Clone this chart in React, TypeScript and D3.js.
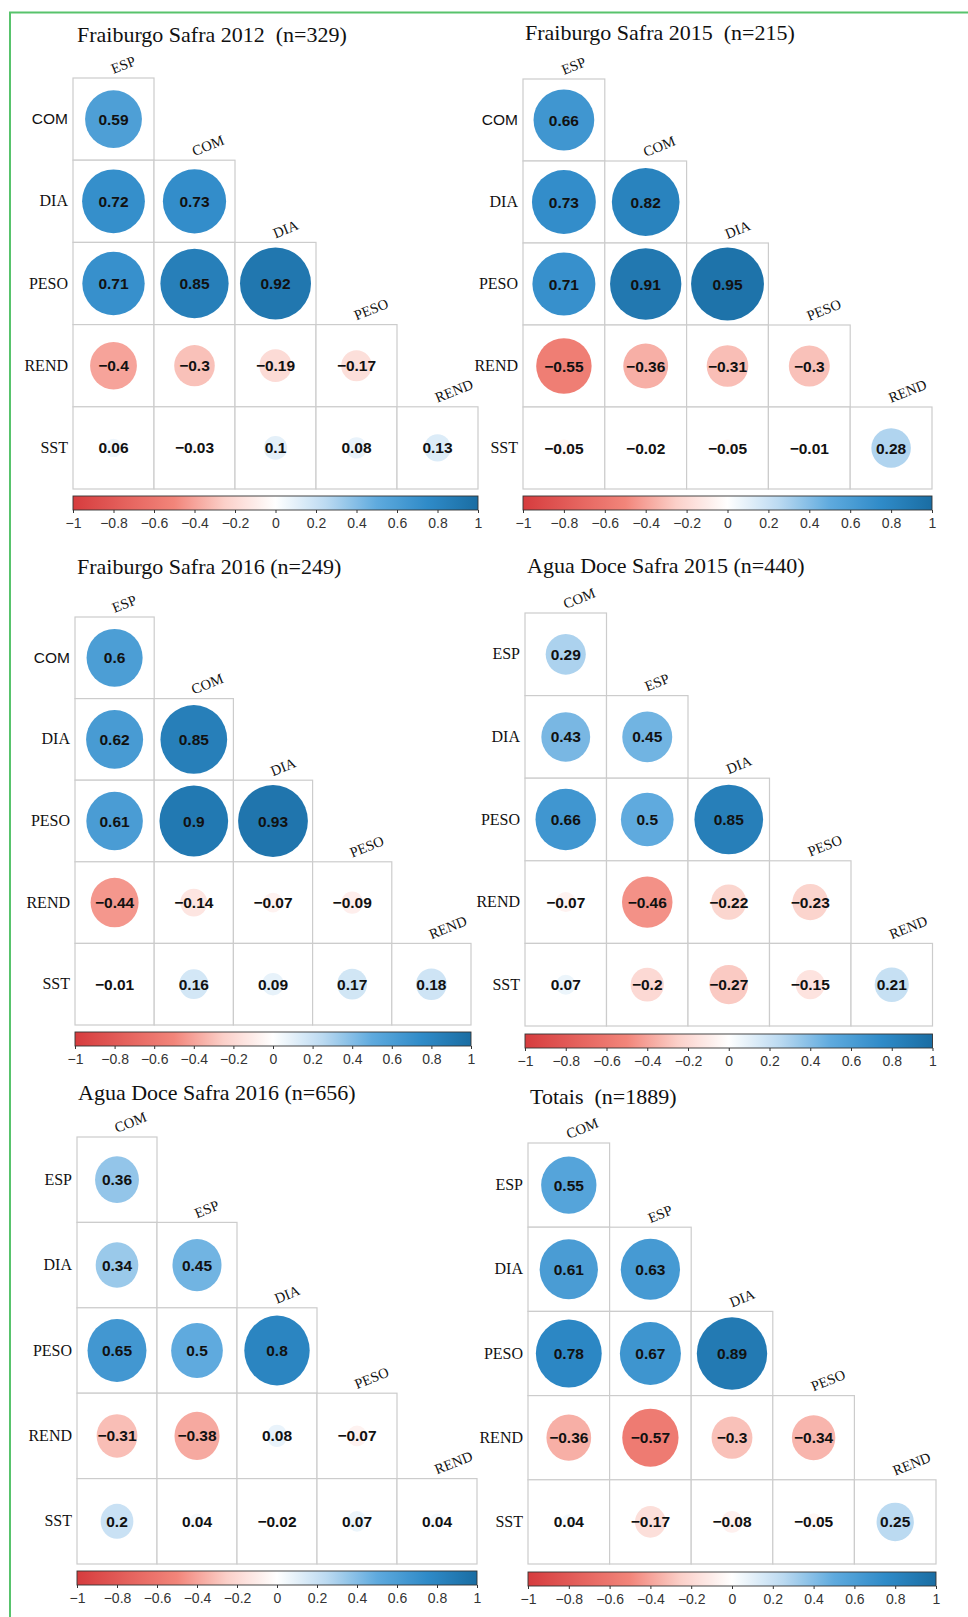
import { useEffect, useRef } from "react";
import * as d3 from "d3";

// variable labels
const fraiburgoRows = ["COM", "DIA", "PESO", "REND", "SST"];
const fraiburgoCols = ["ESP", "COM", "DIA", "PESO", "REND"];
const aguaRows = ["ESP", "DIA", "PESO", "REND", "SST"];
const aguaCols = ["COM", "ESP", "DIA", "PESO", "REND"];

// lower-triangle correlations, one row per row label
const fraiburgo2012 = [
  [0.59],
  [0.72, 0.73],
  [0.71, 0.85, 0.92],
  [-0.4, -0.3, -0.19, -0.17],
  [0.06, -0.03, 0.1, 0.08, 0.13],
];
const fraiburgo2015 = [
  [0.66],
  [0.73, 0.82],
  [0.71, 0.91, 0.95],
  [-0.55, -0.36, -0.31, -0.3],
  [-0.05, -0.02, -0.05, -0.01, 0.28],
];
const fraiburgo2016 = [
  [0.6],
  [0.62, 0.85],
  [0.61, 0.9, 0.93],
  [-0.44, -0.14, -0.07, -0.09],
  [-0.01, 0.16, 0.09, 0.17, 0.18],
];
const aguaDoce2015 = [
  [0.29],
  [0.43, 0.45],
  [0.66, 0.5, 0.85],
  [-0.07, -0.46, -0.22, -0.23],
  [0.07, -0.2, -0.27, -0.15, 0.21],
];
const aguaDoce2016 = [
  [0.36],
  [0.34, 0.45],
  [0.65, 0.5, 0.8],
  [-0.31, -0.38, 0.08, -0.07],
  [0.2, 0.04, -0.02, 0.07, 0.04],
];
const totais = [
  [0.55],
  [0.61, 0.63],
  [0.78, 0.67, 0.89],
  [-0.36, -0.57, -0.3, -0.34],
  [0.04, -0.17, -0.08, -0.05, 0.25],
];

const titles = [
  "Fraiburgo Safra 2012  (n=329)",
  "Fraiburgo Safra 2015  (n=215)",
  "Fraiburgo Safra 2016 (n=249)",
  "Agua Doce Safra 2015 (n=440)",
  "Agua Doce Safra 2016 (n=656)",
  "Totais  (n=1889)",
];

const colorTicks = [-1, -0.8, -0.6, -0.4, -0.2, 0, 0.2, 0.4, 0.6, 0.8, 1];
const colorDomain = [-1, -0.5, -0.25, 0, 0.25, 0.5, 0.75, 1];
const colorRange = [
  "#D63C3E",
  "#F2857A",
  "#FBD0C9",
  "#FFFFFF",
  "#BBDAF1",
  "#5FAADE",
  "#2F8BC8",
  "#1A6DA3",
];

const panels = [
  { data: fraiburgo2012, rows: fraiburgoRows, cols: fraiburgoCols, sansCom: true },
  { data: fraiburgo2015, rows: fraiburgoRows, cols: fraiburgoCols, sansCom: true },
  { data: fraiburgo2016, rows: fraiburgoRows, cols: fraiburgoCols, sansCom: true },
  { data: aguaDoce2015, rows: aguaRows, cols: aguaCols, sansCom: false },
  { data: aguaDoce2016, rows: aguaRows, cols: aguaCols, sansCom: false },
  { data: totais, rows: aguaRows, cols: aguaCols, sansCom: false },
];

// where each panel sits on the page
const layout = [
  { gx: 73, gy: 78, cw: 81, ch: 82.2, tx: 77, ty: 42, cb: 496 },
  { gx: 523, gy: 79, cw: 81.8, ch: 82, tx: 525, ty: 40, cb: 496 },
  { gx: 75, gy: 617, cw: 79.2, ch: 81.6, tx: 77, ty: 574, cb: 1032 },
  { gx: 525, gy: 613, cw: 81.5, ch: 82.6, tx: 527, ty: 573, cb: 1034 },
  { gx: 77, gy: 1137, cw: 80, ch: 85.4, tx: 78, ty: 1100, cb: 1571 },
  { gx: 528, gy: 1143, cw: 81.6, ch: 84.2, tx: 530, ty: 1104, cb: 1572 },
];

const SERIF = "'Liberation Serif', 'Times New Roman', serif";
const SANS = "'Liberation Sans', Arial, sans-serif";

const fmt = (v: number) => String(v).replace("-", "\u2212");

export default function App() {
  const svgRef = useRef<SVGSVGElement>(null);

  useEffect(() => {
    if (!svgRef.current) return;
    const svg = d3.select(svgRef.current);
    svg.selectAll("*").remove();

    const color = d3
      .scaleLinear<string>()
      .domain(colorDomain)
      .range(colorRange)
      .interpolate(d3.interpolateRgb);

    // shared gradient for the colour bars
    const grad = svg
      .append("defs")
      .append("linearGradient")
      .attr("id", "corrbar")
      .attr("x1", "0%")
      .attr("x2", "100%");
    d3.range(0, 41).forEach((i) => {
      const t = i / 40;
      grad
        .append("stop")
        .attr("offset", `${t * 100}%`)
        .attr("stop-color", color(-1 + 2 * t));
    });

    // green frame
    svg
      .append("line")
      .attr("x1", 9)
      .attr("x2", 968)
      .attr("y1", 12.5)
      .attr("y2", 12.5)
      .attr("stroke", "#58C36C")
      .attr("stroke-width", 2);
    svg
      .append("line")
      .attr("x1", 10)
      .attr("x2", 10)
      .attr("y1", 12)
      .attr("y2", 1617)
      .attr("stroke", "#58C36C")
      .attr("stroke-width", 2);

    panels.forEach((p, pi) => {
      const L = layout[pi];
      const g = svg.append("g");

      const x = d3
        .scaleBand()
        .domain(p.cols)
        .range([L.gx, L.gx + L.cw * p.cols.length]);
      const y = d3
        .scaleBand()
        .domain(p.rows)
        .range([L.gy, L.gy + L.ch * p.rows.length]);
      const rx = d3.scaleSqrt().domain([0, 1]).range([0, x.bandwidth() * 0.457]);
      const ry = d3.scaleSqrt().domain([0, 1]).range([0, y.bandwidth() * 0.457]);

      const cells = p.data.flatMap((row, ri) =>
        row.map((v, ci) => ({ row: p.rows[ri], col: p.cols[ci], v }))
      );

      // title
      g.append("text")
        .attr("x", L.tx)
        .attr("y", L.ty)
        .attr("font-family", SERIF)
        .attr("font-size", 22)
        .attr("fill", "#111")
        .style("white-space", "pre")
        .text(titles[pi]);

      // cell grid
      g.selectAll("rect.cell")
        .data(cells)
        .enter()
        .append("rect")
        .attr("class", "cell")
        .attr("x", (d) => x(d.col)!)
        .attr("y", (d) => y(d.row)!)
        .attr("width", x.bandwidth())
        .attr("height", y.bandwidth())
        .attr("fill", "#fff")
        .attr("stroke", "#CCCCCC")
        .attr("stroke-width", 1.2);

      // circles
      g.selectAll("ellipse")
        .data(cells)
        .enter()
        .append("ellipse")
        .attr("cx", (d) => x(d.col)! + x.bandwidth() / 2)
        .attr("cy", (d) => y(d.row)! + y.bandwidth() / 2)
        .attr("rx", (d) => rx(Math.abs(d.v)))
        .attr("ry", (d) => ry(Math.abs(d.v)))
        .attr("fill", (d) => color(d.v));

      // coefficient labels
      g.selectAll("text.value")
        .data(cells)
        .enter()
        .append("text")
        .attr("class", "value")
        .attr("x", (d) => x(d.col)! + x.bandwidth() / 2)
        .attr("y", (d) => y(d.row)! + y.bandwidth() / 2 + 5.5)
        .attr("text-anchor", "middle")
        .attr("font-family", SANS)
        .attr("font-weight", "bold")
        .attr("font-size", 15.5)
        .attr("fill", "#111")
        .text((d) => fmt(d.v));

      // row labels
      g.selectAll("text.rowlab")
        .data(p.rows)
        .enter()
        .append("text")
        .attr("class", "rowlab")
        .attr("x", L.gx - 5)
        .attr("y", (d) => y(d)! + y.bandwidth() / 2 + 5)
        .attr("text-anchor", "end")
        .attr("font-family", (d) => (p.sansCom && d === "COM" ? SANS : SERIF))
        .attr("font-size", (d) => (p.sansCom && d === "COM" ? 15.5 : 16))
        .attr("fill", "#111")
        .text((d) => d);

      // column labels, tilted, above the diagonal cells
      g.selectAll("text.collab")
        .data(p.cols)
        .enter()
        .append("text")
        .attr("class", "collab")
        .attr("transform", (d, i) => {
          const cx = x(d)! + x.bandwidth() / 2;
          const cy = y(p.rows[i])! - 4;
          return `translate(${cx},${cy}) rotate(-22)`;
        })
        .attr("font-family", SERIF)
        .attr("font-size", 14.5)
        .attr("fill", "#111")
        .text((d) => d);

      // colour bar
      const cbScale = d3
        .scaleLinear()
        .domain([-1, 1])
        .range([L.gx, L.gx + L.cw * p.cols.length]);
      const cbH = 14;
      g.append("rect")
        .attr("x", cbScale(-1))
        .attr("y", L.cb)
        .attr("width", cbScale(1) - cbScale(-1))
        .attr("height", cbH)
        .attr("fill", "url(#corrbar)")
        .attr("stroke", "#333")
        .attr("stroke-width", 0.9);

      const axis = g
        .append("g")
        .attr("transform", `translate(0,${L.cb + cbH})`)
        .call(
          d3
            .axisBottom(cbScale)
            .tickValues(colorTicks)
            .tickSize(3)
            .tickPadding(5)
            .tickFormat((d) => fmt(+d))
        );
      axis.select(".domain").remove();
      axis.selectAll(".tick line").attr("stroke", "#333").attr("stroke-width", 1);
      axis
        .selectAll(".tick text")
        .attr("fill", "#333")
        .attr("font-family", SANS)
        .attr("font-size", 14);
    });
  }, []);

  return (
    <>
      <style>{`body{margin:0;background:#fff}`}</style>
      <svg ref={svgRef} width={968} height={1617} style={{ display: "block" }} />
    </>
  );
}
